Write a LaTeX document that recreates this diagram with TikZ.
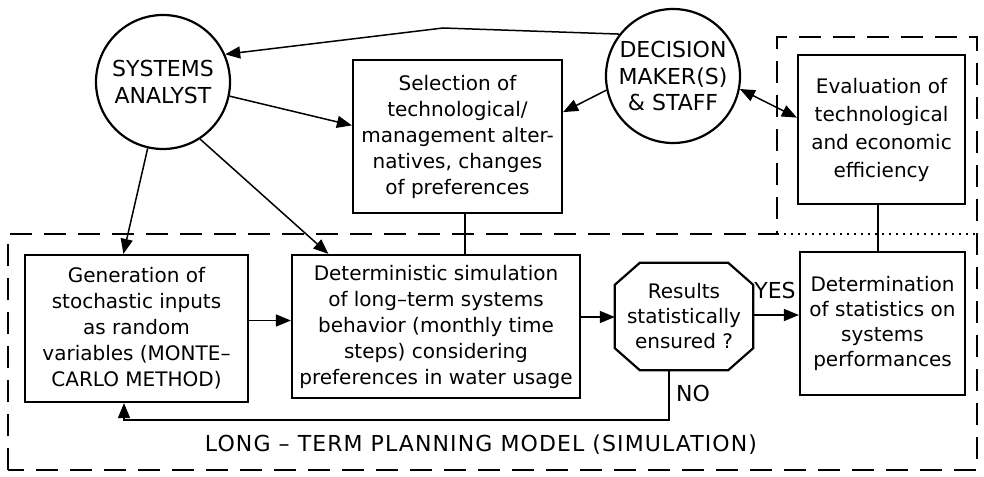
\documentclass[tikz,border=0pt]{standalone}
\usepackage{fontspec}
\setmainfont{DejaVu Sans}
\usetikzlibrary{arrows.meta,calc}
\begin{document}
\begin{tikzpicture}[x=1pt,y=-1pt,
  box/.style={draw,line width=2.2pt,align=center,inner sep=2pt,font=\fontsize{20}{26}\selectfont},
  circ/.style={draw,circle,line width=2.2pt,align=center,minimum size=134pt,inner sep=0pt,font=\fontsize{22}{26.5}\selectfont},
  conn/.style={line width=1.5pt},
  arr/.style={conn,-{Triangle[length=15pt,width=12pt]}},
  darr/.style={conn,{Triangle[length=15pt,width=12pt]}-{Triangle[length=15pt,width=12pt]}},
  capslbl/.style={inner sep=0pt,font=\fontsize{22}{26}\selectfont},
  frame/.style={line width=2.6pt,dash pattern=on 22pt off 12pt},
  dotline/.style={line width=2pt,dash pattern=on 2pt off 5pt},
]
\useasboundingbox (0,0) rectangle (984,476);
\fill[white] (0,0) rectangle (984,476);

% frame
\draw[frame] (8,470) -- (8,234) -- (777,234) -- (777,37) -- (977,37) -- (977,470) -- cycle;
\draw[dotline] (777,234) -- (977,234);

% circles
\node[circ] (sa) at (163,82) {SYSTEMS\\ANALYST};
\node[circ] (dm) at (673,76) {DECISION\\MAKER(S)\\\& STAFF};

% boxes
\node[box,minimum width=209pt,minimum height=153pt] (sel) at (457.5,136.5)
  {Selection of\\technological/\\management alter-\\natives, changes\\of preferences};
\node[box,minimum width=167pt,minimum height=149pt,font=\fontsize{20}{28}\selectfont] (eval) at (881.5,129.5)
  {Evaluation of\\technological\\and economic\\efficiency};
\node[box,minimum width=223pt,minimum height=147pt] (gen) at (136.5,328.5)
  {Generation of\\stochastic inputs\\as random\\variables (MONTE–\\CARLO METHOD)};
\node[box,minimum width=288pt,minimum height=143pt] (det) at (436,326.5)
  {Deterministic simulation\\of long–term systems\\behavior (monthly time\\steps) considering\\preferences in water usage};
\node[box,minimum width=165pt,minimum height=143pt,font=\fontsize{20}{25}\selectfont] (dtm) at (882.5,323.5)
  {Determination\\of statistics on\\systems\\performances};

% octagon
\node[minimum width=138pt,minimum height=107pt,inner sep=0pt,align=center,font=\fontsize{20}{25}\selectfont] (oct) at (684,316.5)
  {Results\\statistically\\ensured ?};
\draw[line width=2.2pt] ($(oct.north west)+(25,0)$) -- ($(oct.north east)+(-25,0)$)
  -- ($(oct.north east)+(0,22)$) -- ($(oct.south east)+(0,-22)$)
  -- ($(oct.south east)+(-25,0)$) -- ($(oct.south west)+(25,0)$)
  -- ($(oct.south west)+(0,-22)$) -- ($(oct.north west)+(0,22)$) -- cycle;

% labels
\node[capslbl] (yes) at (775,290) {YES};
\node[capslbl] (no) at (693,393) {NO};
\node[capslbl,font=\fontsize{22}{26}\selectfont\addfontfeature{LetterSpace=5}] (ltpm) at (481,445)
  {LONG – TERM PLANNING MODEL (SIMULATION)};

% connectors
\coordinate (bend) at (443,28);
\draw[arr] (dm.142) -- (bend) -- (sa.24);
\draw[arr] (sa.-12) -- (sel.174);
\draw[arr] (dm.192) -- (sel.13);
\draw[darr] (dm.-11) -- (eval.172);
\draw[arr] (sa.257) -- (gen.100);
\draw[arr] (sa.-57) -- (det.146);
\draw[conn] (sel.south) ++(7.5,0) coordinate (s1) -- (s1 |- det.north);
\draw[conn] (eval.south) ++(-3.5,0) coordinate (e1) -- (e1 |- dtm.north);
\draw[arr] (gen.east) ++(0,-8) coordinate (g1) -- (g1 -| det.west);
\draw[arr] (det.east) ++(0,-9.5) coordinate (d1) -- (d1 -| oct.west);
\draw[arr] (oct.east) ++(0,-1.5) coordinate (o1) -- (o1 -| dtm.west);
\coordinate (n2) at (669,420);
\coordinate (n3) at (124,420);
\draw[arr] (oct.south -| n2) -- (n2) -- (n3) -- (n3 |- gen.south);
\end{tikzpicture}
\end{document}
